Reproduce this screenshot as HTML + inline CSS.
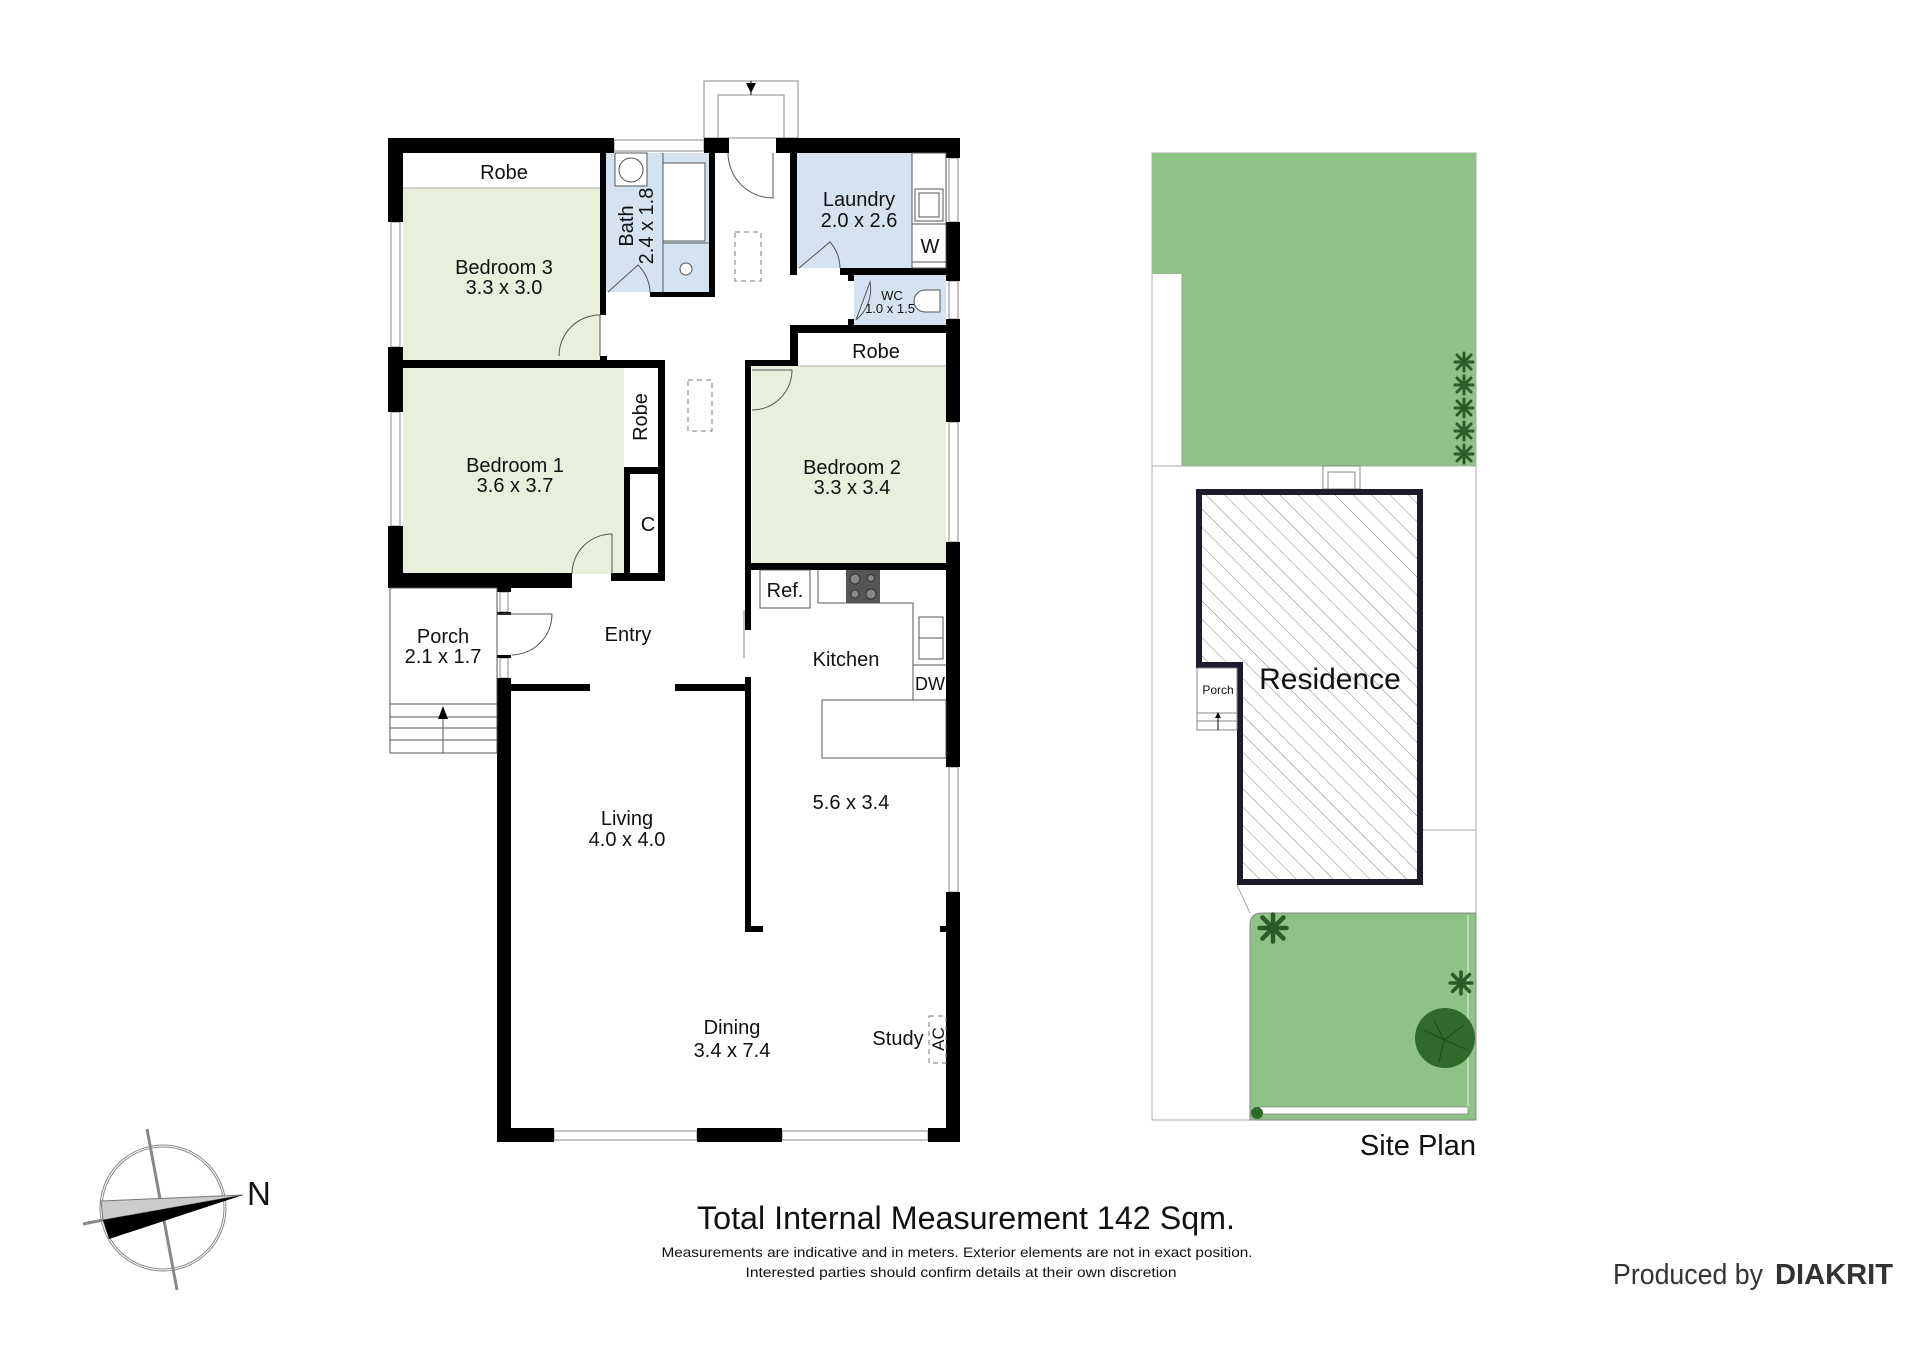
<!DOCTYPE html>
<html><head><meta charset="utf-8"><style>
html,body{margin:0;padding:0;background:#fff;}
svg{display:block;}
text{font-family:"Liberation Sans",Arial,sans-serif;fill:#111;}
</style></head><body>
<svg width="1920" height="1357" viewBox="0 0 1920 1357" xmlns="http://www.w3.org/2000/svg">
<defs>
<pattern id="hatch" patternUnits="userSpaceOnUse" width="13" height="13" patternTransform="rotate(-45)">
<line x1="0" y1="0" x2="0" y2="13" stroke="#777" stroke-width="0.9"/>
</pattern>
<g id="star">
<g stroke="#2d5a28" stroke-width="3" stroke-linecap="round">
<line x1="-9" y1="0" x2="9" y2="0"/><line x1="0" y1="-9" x2="0" y2="9"/>
<line x1="-7" y1="-7" x2="7" y2="7"/><line x1="-7" y1="7" x2="7" y2="-7"/>
</g></g>
</defs>
<rect width="1920" height="1357" fill="#fff"/>

<!-- room fills -->
<rect x="403" y="188" width="197" height="172" fill="#e8f0dc"/>
<rect x="403" y="368" width="221" height="206" fill="#e8f0dc"/>
<rect x="752" y="366" width="194" height="197" fill="#e8f0dc"/>
<rect x="606" y="153" width="103" height="139" fill="#d5e2f0"/>
<rect x="797" y="153" width="115" height="115" fill="#d5e2f0"/>
<rect x="854" y="275" width="92" height="50" fill="#d5e2f0"/>
<line x1="403" y1="188" x2="600" y2="188" stroke="#aaa" stroke-width="1"/>
<line x1="799" y1="366" x2="946" y2="366" stroke="#aaa" stroke-width="1"/>

<!-- entry porch top -->
<rect x="704" y="81" width="94" height="57" fill="none" stroke="#888" stroke-width="1"/>
<rect x="718" y="95" width="66" height="43" fill="none" stroke="#888" stroke-width="1"/>
<line x1="751" y1="81" x2="751" y2="95" stroke="#000"/>
<polygon points="746,83 756,83 751,93" fill="#000"/>

<!-- windows (thin) -->
<g fill="#fff" stroke="#888" stroke-width="1">
<rect x="614" y="140" width="90" height="11"/>
<rect x="391" y="222" width="9" height="125"/>
<rect x="391" y="412" width="9" height="114"/>
<rect x="949" y="158" width="9" height="64"/>
<rect x="949" y="281" width="9" height="38"/>
<rect x="949" y="422" width="9" height="120"/>
<rect x="949" y="767" width="9" height="125"/>
<rect x="554" y="1131" width="143" height="9"/>
<rect x="782" y="1131" width="146" height="9"/>
<rect x="500" y="592" width="8" height="20"/>
<rect x="500" y="658" width="8" height="20"/>
</g>

<!-- walls -->
<g fill="#000">
<rect x="388" y="138" width="226" height="15"/>
<rect x="704" y="138" width="25" height="15"/>
<rect x="776" y="138" width="184" height="15"/>
<rect x="388" y="138" width="15" height="84"/>
<rect x="388" y="347" width="15" height="65"/>
<rect x="388" y="526" width="15" height="62"/>
<rect x="946" y="138" width="14" height="20"/>
<rect x="946" y="222" width="14" height="59"/>
<rect x="946" y="319" width="14" height="103"/>
<rect x="946" y="542" width="14" height="225"/>
<rect x="946" y="892" width="14" height="250"/>
<rect x="497" y="1128" width="57" height="14"/>
<rect x="697" y="1128" width="85" height="14"/>
<rect x="928" y="1128" width="32" height="14"/>
<rect x="497" y="678" width="14" height="464"/>
<rect x="497" y="588" width="14" height="4"/>
<rect x="497" y="612" width="14" height="3"/>
<rect x="497" y="655" width="14" height="3"/>
<rect x="600" y="153" width="6" height="162"/>
<rect x="600" y="356" width="7" height="12"/>
<rect x="388" y="360" width="277" height="8"/>
<rect x="709" y="153" width="6" height="144"/>
<rect x="650" y="292" width="65" height="5"/>
<rect x="790" y="153" width="7" height="122"/>
<rect x="840" y="268" width="106" height="7"/>
<rect x="848" y="268" width="6" height="13"/>
<rect x="848" y="319" width="6" height="11"/>
<rect x="790" y="325" width="170" height="8"/>
<rect x="790" y="325" width="8" height="41"/>
<rect x="745" y="360" width="53" height="6"/>
<rect x="745" y="360" width="6" height="270"/>
<rect x="745" y="677" width="6" height="255"/>
<rect x="745" y="926" width="18" height="6"/>
<rect x="940" y="926" width="6" height="6"/>
<rect x="745" y="563" width="215" height="7"/>
<rect x="658" y="360" width="7" height="221"/>
<rect x="624" y="467" width="41" height="7"/>
<rect x="624" y="467" width="6" height="114"/>
<rect x="388" y="573" width="184" height="15"/>
<rect x="611" y="573" width="54" height="8"/>
<rect x="511" y="684" width="79" height="7"/>
<rect x="675" y="684" width="76" height="7"/>
</g>
<line x1="744" y1="610" x2="744" y2="658" stroke="#888" stroke-width="1"/>
<rect x="624" y="368" width="34" height="99" fill="#fff"/>

<!-- doors -->
<g fill="none" stroke="#555" stroke-width="1">
<path d="M773 153 L773 198 A45 45 0 0 1 728 153"/>
<path d="M600 356 L600 315 A41 41 0 0 0 559 356"/>
<path d="M608 292 L638 265 A41 41 0 0 1 650 292"/>
<path d="M799 268 L830 242 A41 41 0 0 1 840 268"/>
<path d="M856 320 L870 282 A40 40 0 0 1 856 320"/>
<path d="M752 370 L792 370 A40 40 0 0 1 752 410"/>
<path d="M612 574 L612 534 A40 40 0 0 0 572 574"/>
<path d="M497 614 L552 614 A41 41 0 0 1 512 655"/>
</g>

<!-- fixtures -->
<g fill="#fff" stroke="#555" stroke-width="1">
<rect x="615" y="153" width="32" height="33"/>
<circle cx="631" cy="170" r="12"/>
<rect x="663" y="163" width="42" height="78"/>
<line x1="663" y1="243" x2="709" y2="243"/>
<line x1="663" y1="153" x2="663" y2="292"/>
<circle cx="686" cy="269" r="6"/>
<rect x="912" y="153" width="34" height="115"/>
<rect x="915" y="189" width="28" height="32"/>
<rect x="919" y="193" width="20" height="24"/>
<line x1="912" y1="224" x2="946" y2="224"/>
<line x1="912" y1="262" x2="946" y2="262"/>
<path d="M940 290 L925 290 A10 10 0 0 0 925 312 L940 312 Z"/>
<rect x="760" y="570" width="50" height="38"/>
<path d="M818 570 L818 603 L913 603 L913 700"/>
<line x1="913" y1="665" x2="946" y2="665"/>
<rect x="822" y="700" width="124" height="58"/>
<rect x="919" y="617" width="24" height="42"/>
<line x1="919" y1="638" x2="943" y2="638"/>
<rect x="390" y="588" width="107" height="165" fill="none"/>
<line x1="390" y1="704" x2="497" y2="704"/>
<line x1="390" y1="717" x2="497" y2="717"/>
<line x1="390" y1="728" x2="497" y2="728"/>
<line x1="390" y1="740" x2="497" y2="740"/>
<line x1="443" y1="712" x2="443" y2="753"/>
</g>
<polygon points="438,719 448,719 443,706" fill="#000"/>
<rect x="846" y="570" width="34" height="33" fill="#555"/>
<g fill="#888" stroke="#333"><circle cx="855" cy="579" r="5"/><circle cx="871" cy="578" r="3.5"/><circle cx="855" cy="594" r="4"/><circle cx="871" cy="594" r="5"/></g>
<g fill="none" stroke="#777" stroke-dasharray="5,4">
<rect x="735" y="232" width="26" height="49"/>
<rect x="688" y="380" width="24" height="51"/>
<rect x="929" y="1016" width="17" height="47"/>
</g>

<!-- labels -->
<g font-size="20" text-anchor="middle">
<text x="504" y="179">Robe</text>
<text x="504" y="274">Bedroom 3</text>
<text x="504" y="294">3.3 x 3.0</text>
<text x="515" y="472">Bedroom 1</text>
<text x="515" y="492">3.6 x 3.7</text>
<text x="852" y="474">Bedroom 2</text>
<text x="852" y="494">3.3 x 3.4</text>
<text x="876" y="358">Robe</text>
<text x="859" y="206">Laundry</text>
<text x="859" y="227">2.0 x 2.6</text>
<text x="930" y="253">W</text>
<text x="648" y="531">C</text>
<text x="785" y="597">Ref.</text>
<text x="846" y="666">Kitchen</text>
<text x="930" y="690" font-size="18">DW</text>
<text x="628" y="641">Entry</text>
<text x="443" y="643">Porch</text>
<text x="443" y="663">2.1 x 1.7</text>
<text x="851" y="809">5.6 x 3.4</text>
<text x="627" y="825">Living</text>
<text x="627" y="846">4.0 x 4.0</text>
<text x="732" y="1034">Dining</text>
<text x="732" y="1057">3.4 x 7.4</text>
<text x="898" y="1045">Study</text>
<text transform="translate(633,226) rotate(-90)">Bath</text>
<text transform="translate(653,226) rotate(-90)">2.4 x 1.8</text>
<text transform="translate(647,417) rotate(-90)">Robe</text>
<text transform="translate(944,1039) rotate(-90)" font-size="17">AC</text>
<text x="892" y="300" font-size="13">WC</text>
<text x="890" y="313" font-size="13">1.0 x 1.5</text>
</g>

<!-- SITE PLAN -->
<g transform="translate(-6,0)">
<rect x="1158" y="153" width="324" height="967" fill="#fff" stroke="#aaa" stroke-width="1"/>
<path d="M1158 153 L1482 153 L1482 466 L1188 466 L1188 274 L1158 274 Z" fill="#8fc287"/>
<line x1="1188" y1="274" x2="1188" y2="466" stroke="#999"/>
<line x1="1158" y1="466" x2="1482" y2="466" stroke="#aaa"/>
<use href="#star" x="1470" y="362"/><use href="#star" x="1470" y="385"/><use href="#star" x="1470" y="408"/><use href="#star" x="1470" y="431"/><use href="#star" x="1470" y="454"/>
<rect x="1329" y="466" width="37" height="23" fill="#fff" stroke="#888"/>
<rect x="1334" y="472" width="27" height="17" fill="#fff" stroke="#888"/>
<path d="M1205 492 L1426 492 L1426 882 L1246 882 L1246 665 L1205 665 Z" fill="url(#hatch)" stroke="#1c1c2c" stroke-width="6"/>
<rect x="1203" y="668" width="40" height="62" fill="#fff" stroke="#888"/>
<line x1="1203" y1="713" x2="1243" y2="713" stroke="#888"/>
<line x1="1203" y1="721" x2="1243" y2="721" stroke="#888"/>
<line x1="1224" y1="715" x2="1224" y2="730" stroke="#000"/>
<polygon points="1221,718 1227,718 1224,712" fill="#000"/>
<text x="1224" y="694" font-size="12" text-anchor="middle">Porch</text>
<text x="1336" y="689" font-size="30" text-anchor="middle">Residence</text>
<line x1="1429" y1="830" x2="1482" y2="830" stroke="#aaa"/>
<line x1="1243" y1="885" x2="1256" y2="913" stroke="#aaa"/>
<path d="M1256 1120 L1256 925 Q1256 913 1268 913 L1482 913 L1482 1120 Z" fill="#8fc287" stroke="#888" stroke-width="1"/>
<line x1="1474" y1="915" x2="1474" y2="1110" stroke="#eee" stroke-width="1"/>
<rect x="1264" y="1107" width="210" height="7" fill="#fff" stroke="#888" stroke-width="0.8"/>
<circle cx="1263" cy="1113" r="6" fill="#2d6b2a"/>
<g transform="translate(1279,928) scale(1.5)"><use href="#star"/></g>
<g transform="translate(1467,983) scale(1.2)"><use href="#star"/></g>
<circle cx="1451" cy="1038" r="30" fill="#2f6a2b"/>
<g stroke="#1e4a1c" stroke-width="1" fill="none"><path d="M1430 1030 L1450 1040 L1470 1025 M1450 1040 L1445 1062 M1450 1040 L1474 1050 M1440 1020 L1450 1040"/></g>
<text x="1482" y="1155" font-size="29" text-anchor="end">Site Plan</text>
</g>

<!-- footer -->
<text x="966" y="1229" font-size="32" text-anchor="middle" textLength="538" lengthAdjust="spacingAndGlyphs">Total Internal Measurement 142 Sqm.</text>
<text x="957" y="1257" font-size="14" text-anchor="middle" textLength="591" lengthAdjust="spacingAndGlyphs">Measurements are indicative and in meters. Exterior elements are not in exact position.</text>
<text x="961" y="1277" font-size="14" text-anchor="middle" textLength="431" lengthAdjust="spacingAndGlyphs">Interested parties should confirm details at their own discretion</text>
<text x="1613" y="1284" font-size="29" textLength="150" lengthAdjust="spacingAndGlyphs" style="fill:#333">Produced by</text>
<text x="1775" y="1284" font-size="29" font-weight="bold" textLength="118" lengthAdjust="spacingAndGlyphs" style="fill:#333">DIAKRIT</text>

<!-- compass -->
<circle cx="163" cy="1208" r="62" fill="none" stroke="#888" stroke-width="3"/>
<circle cx="163" cy="1208" r="62" fill="none" stroke="#fff" stroke-width="1"/>
<line x1="147" y1="1129" x2="177" y2="1290" stroke="#888" stroke-width="3"/>
<line x1="83" y1="1224" x2="103" y2="1220" stroke="#888" stroke-width="3"/>
<polygon points="101,1201 243,1195 103,1220" fill="#ccc" stroke="#777" stroke-width="1"/>
<polygon points="103,1220 243,1195 109,1239" fill="#000"/>
<text x="247" y="1205" font-size="33">N</text>
</svg>
</body></html>
